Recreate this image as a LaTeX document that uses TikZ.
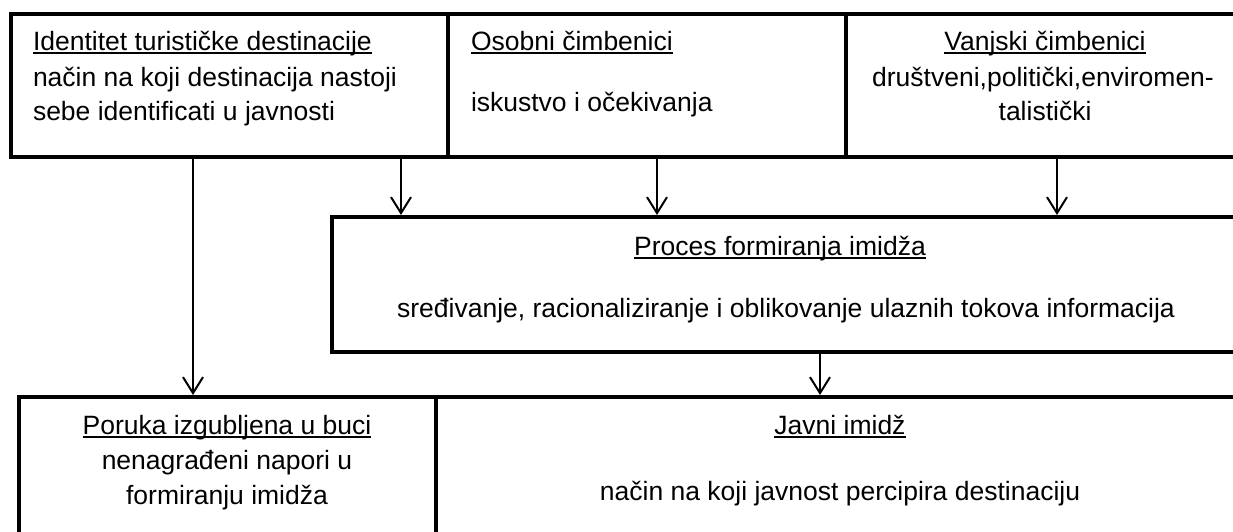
\documentclass[tikz,border=0pt]{standalone}
\usepackage{fontspec}
\setmainfont{Liberation Sans}
\usetikzlibrary{arrows.meta}
\newcommand\uln[1]{\setbox0\hbox{#1}\rlap{\rule[-3.5pt]{\wd0}{1.8pt}}\box0}
\begin{document}
\begin{tikzpicture}[x=1pt,y=-1pt,
  boxx/.style={draw=black,line width=4.2pt,rectangle,inner sep=0pt,outer sep=0pt,anchor=north west},
  txt/.style={inner sep=0pt,outer sep=0pt,font=\fontsize{26.5}{32}\selectfont,text=black},
  arr/.style={line width=2pt,-{Straight Barb[length=16pt,width=20pt]},shorten >=2pt}]
\useasboundingbox (0,0) rectangle (1233,531);
\fill[white] (0,0) rectangle (1233,531);
\clip (0,0) rectangle (1233,531);
% boxes
\node[boxx,minimum width=437pt,minimum height=143pt] (b1) at (11,14) {};
\node[boxx,minimum width=398pt,minimum height=143pt] (b2) at (448,14) {};
\node[boxx,minimum width=420pt,minimum height=143pt] (b3) at (846,14) {};
\node[boxx,minimum width=940pt,minimum height=135pt] (p) at (332,217) {};
\node[boxx,minimum width=417pt,minimum height=200pt] (b4) at (19,397) {};
\node[boxx,minimum width=840pt,minimum height=200pt] (b5) at (436,397) {};
% texts
\node[txt,anchor=base west] (t1a) at (33,50) {\uln{Identitet turističke destinacije}};
\node[txt,anchor=base west] (t1b) at (33,86) {način na koji destinacija nastoji};
\node[txt,anchor=base west] (t1c) at (33,120) {sebe identificati u javnosti};
\node[txt,anchor=base west] (t2a) at (471,50) {\uln{Osobni čimbenici}};
\node[txt,anchor=base west] (t2b) at (471,111) {iskustvo i očekivanja};
\node[txt,anchor=base] (t3a) at (1045,50) {\uln{Vanjski čimbenici}};
\node[txt,anchor=base] (t3b) at (1043,86) {društveni,politički,enviromen-};
\node[txt,anchor=base] (t3c) at (1045,120) {talistički};
\node[txt,anchor=base] (tpa) at (780,255) {\uln{Proces formiranja imidža}};
\node[txt,anchor=base] (tpb) at (786,317) {sređivanje, racionaliziranje i oblikovanje ulaznih tokova informacija};
\node[txt,anchor=base] (t4a) at (227,434) {\uln{Poruka izgubljena u buci}};
\node[txt,anchor=base] (t4b) at (227,469) {nenagrađeni napori u};
\node[txt,anchor=base] (t4c) at (227,504) {formiranju imidža};
\node[txt,anchor=base] (t5a) at (840,434) {\uln{Javni imidž}};
\node[txt,anchor=base] (t5b) at (840,500) {način na koji javnost percipira destinaciju};
% arrows
\coordinate (c1) at (193,0);
\coordinate (c2) at (401,0);
\coordinate (c3) at (657,0);
\coordinate (c4) at (1057,0);
\coordinate (c5) at (820,0);
\draw[arr] (b1.south -| c1) -- (b4.north -| c1);
\draw[arr] (b1.south -| c2) -- (p.north -| c2);
\draw[arr] (b2.south -| c3) -- (p.north -| c3);
\draw[arr] (b3.south -| c4) -- (p.north -| c4);
\draw[arr] (p.south -| c5) -- (b5.north -| c5);
\end{tikzpicture}
\end{document}
